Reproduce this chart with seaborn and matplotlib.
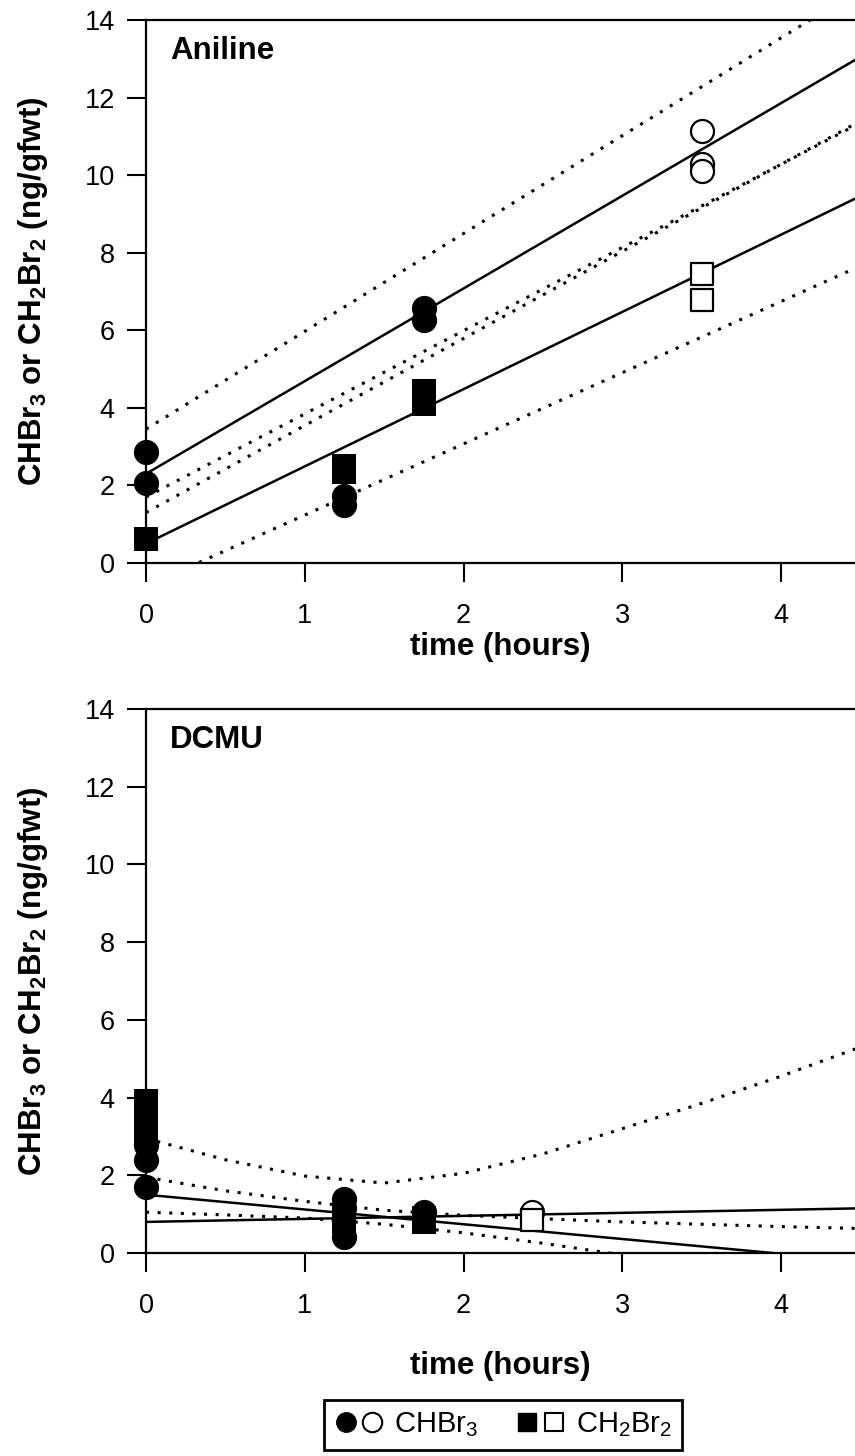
import matplotlib
matplotlib.use("Agg")
import matplotlib.pyplot as plt
import seaborn as sns
from matplotlib.lines import Line2D
from matplotlib.legend_handler import HandlerTuple

# ---------------- data: Aniline panel ----------------
an_chbr3_filled_t = [0, 0, 1.25, 1.25, 1.75, 1.75]
an_chbr3_filled_v = [2.86, 2.06, 1.72, 1.50, 6.58, 6.27]
an_chbr3_open_t = [3.5, 3.5, 3.5]
an_chbr3_open_v = [11.13, 10.30, 10.10]
an_ch2br2_filled_t = [0, 1.25, 1.25, 1.75, 1.75]
an_ch2br2_filled_v = [0.62, 2.50, 2.35, 4.44, 4.10]
an_ch2br2_open_t = [3.5, 3.5]
an_ch2br2_open_v = [7.45, 6.78]

# straight lines: value at t = 0 and t = 4.5
line_t = [0, 4.5]
an_chbr3_fit = [2.30, 13.05]
an_chbr3_upper = [3.45, 14.80]
an_chbr3_lower = [1.30, 11.40]
an_ch2br2_fit = [0.50, 9.46]
an_ch2br2_upper = [1.70, 11.35]
an_ch2br2_lower = [-0.60, 7.66]

# ---------------- data: DCMU panel ----------------
dc_chbr3_filled_t = [0, 0, 0, 1.25, 1.25, 1.25, 1.75]
dc_chbr3_filled_v = [2.78, 2.39, 1.70, 1.38, 1.15, 0.42, 1.05]
dc_chbr3_open_t = [2.43]
dc_chbr3_open_v = [1.05]
dc_ch2br2_filled_t = [0, 0, 0, 0, 1.25, 1.25, 1.75, 1.75]
dc_ch2br2_filled_v = [3.90, 3.60, 3.30, 3.05, 0.95, 0.80, 0.90, 0.81]
dc_ch2br2_open_t = [2.43]
dc_ch2br2_open_v = [0.85]

dc_chbr3_fit = [1.50, -0.21]
dc_ch2br2_fit = [0.80, 1.15]
band_t = [0, 0.5, 1, 1.5, 2, 2.5, 3, 3.5, 4, 4.5]
dc_ch2br2_upper = [2.95, 2.40, 1.98, 1.80, 2.05, 2.55, 3.20, 3.85, 4.55, 5.30]
dc_chbr3_upper = [1.95, 1.60, 1.33, 1.10, 0.97, 0.88, 0.80, 0.74, 0.68, 0.63]
dc_chbr3_lower = [1.05, 0.98, 0.90, 0.74, 0.52, 0.25, -0.05, -0.40, -0.75, -1.05]

x_ticks = [0, 1, 2, 3, 4]
y_ticks = [0, 2, 4, 6, 8, 10, 12, 14]
panel_names = ["Aniline", "DCMU"]
x_label = "time (hours)"
y_label = "CHBr$_3$ or CH$_2$Br$_2$ (ng/gfwt)"
legend_labels = ["CHBr$_3$", "CH$_2$Br$_2$"]

# ---------------- style ----------------
sns.set_theme(style="ticks")
plt.rcParams["font.family"] = ["Liberation Sans", "DejaVu Sans"]
plt.rcParams["mathtext.default"] = "regular"
plt.rcParams["text.color"] = "black"
plt.rcParams["axes.labelcolor"] = "black"
plt.rcParams["xtick.color"] = "black"
plt.rcParams["ytick.color"] = "black"

W, H = 855, 1456
fig = plt.figure(figsize=(W / 100, H / 100), dpi=100)

left_px = 146
px_per_hour = 158.75
ax_w_px = W - left_px
xmax = ax_w_px / px_per_hour

ax1 = fig.add_axes([left_px / W, 1 - 563 / H, ax_w_px / W, 543 / H])
ax2 = fig.add_axes([left_px / W, 1 - 1253 / H, ax_w_px / W, 544 / H])

SOLID_LW = 1.8
DOT = dict(linestyle=(0, (1.0, 2.8)), linewidth=2.2)
FS_TICK = 19.5
FS_BOLD = 22.5
S_FILLED_O = 330
S_FILLED_S = 280
S_OPEN_O = 275
S_OPEN_S = 235


def draw_line(ax, xs, ys, solid=True):
    kw = dict(linewidth=SOLID_LW, linestyle="-") if solid else DOT
    sns.lineplot(x=xs, y=ys, ax=ax, color="black", estimator=None,
                 sort=False, legend=False, zorder=2, **kw)


def draw_pts(ax, t, v, marker, filled, s):
    if filled:
        sns.scatterplot(x=t, y=v, ax=ax, marker=marker, s=s, color="black",
                        edgecolor="black", linewidth=0, clip_on=False,
                        zorder=4, legend=False)
    else:
        sns.scatterplot(x=t, y=v, ax=ax, marker=marker, s=s, color="white",
                        edgecolor="black", linewidth=1.6, clip_on=False,
                        zorder=5, legend=False)


# ---- top panel
for ys in [an_chbr3_fit, an_ch2br2_fit]:
    draw_line(ax1, line_t, ys, True)
for ys in [an_chbr3_upper, an_chbr3_lower, an_ch2br2_upper, an_ch2br2_lower]:
    draw_line(ax1, line_t, ys, False)
draw_pts(ax1, an_chbr3_filled_t, an_chbr3_filled_v, "o", True, S_FILLED_O)
draw_pts(ax1, an_ch2br2_filled_t, an_ch2br2_filled_v, "s", True, S_FILLED_S)
draw_pts(ax1, an_chbr3_open_t, an_chbr3_open_v, "o", False, S_OPEN_O)
draw_pts(ax1, an_ch2br2_open_t, an_ch2br2_open_v, "s", False, S_OPEN_S)

# ---- bottom panel
draw_line(ax2, line_t, dc_chbr3_fit, True)
draw_line(ax2, line_t, dc_ch2br2_fit, True)
for ys in [dc_ch2br2_upper, dc_chbr3_upper, dc_chbr3_lower]:
    draw_line(ax2, band_t, ys, False)
draw_pts(ax2, dc_ch2br2_filled_t, dc_ch2br2_filled_v, "s", True, S_FILLED_S)
draw_pts(ax2, dc_chbr3_filled_t, dc_chbr3_filled_v, "o", True, S_FILLED_O)
draw_pts(ax2, dc_chbr3_open_t, dc_chbr3_open_v, "o", False, S_OPEN_O)
draw_pts(ax2, dc_ch2br2_open_t, dc_ch2br2_open_v, "s", False, S_OPEN_S)

xlabel_y = [-(647 - 563) / 543, -(1366 - 1253) / 544]
for ax, name, xly in zip([ax1, ax2], panel_names, xlabel_y):
    ax.set_xlim(0, xmax)
    ax.set_ylim(0, 14)
    ax.set_xticks(x_ticks)
    ax.set_yticks(y_ticks)
    ax.tick_params(axis="both", direction="out", length=13.5, width=1.5,
                   labelsize=FS_TICK, color="black", labelcolor="black")
    ax.tick_params(axis="x", pad=15)
    ax.tick_params(axis="y", pad=9)
    for side in ["left", "bottom", "top"]:
        ax.spines[side].set_linewidth(1.6)
        ax.spines[side].set_color("black")
    ax.spines["right"].set_visible(False)
    ax.set_xlabel(x_label, fontsize=FS_BOLD, fontweight="bold", color="black")
    ax.set_ylabel(y_label, fontsize=FS_BOLD, fontweight="bold", color="black")
    ax.xaxis.label.set_va("center")
    ax.yaxis.label.set_va("center")
    ax.xaxis.set_label_coords(0.5, xly)
    ax.yaxis.set_label_coords(-(146 - 33) / ax_w_px, 0.5)
    ax.text(0.15, 13.2, name, fontsize=FS_BOLD, fontweight="bold",
            ha="left", va="center", color="black")
    ax.set_facecolor("white")

# ---- legend
h_fo = Line2D([], [], marker="o", linestyle="none", markersize=14,
              markerfacecolor="black", markeredgecolor="black")
h_oo = Line2D([], [], marker="o", linestyle="none", markersize=14,
              markerfacecolor="white", markeredgecolor="black", markeredgewidth=1.5)
h_fs = Line2D([], [], marker="s", linestyle="none", markersize=13,
              markerfacecolor="black", markeredgecolor="black")
h_os = Line2D([], [], marker="s", linestyle="none", markersize=13,
              markerfacecolor="white", markeredgecolor="black", markeredgewidth=1.5)
leg = fig.legend([(h_fo, h_oo), (h_fs, h_os)], legend_labels,
                 handler_map={tuple: HandlerTuple(ndivide=None, pad=0.12)},
                 loc="center", bbox_to_anchor=(503 / W, 1 - 1425 / H),
                 ncol=2, fontsize=21, frameon=True, fancybox=False,
                 edgecolor="black", framealpha=1, handlelength=1.7,
                 handletextpad=0.35, columnspacing=1.3, borderpad=0.35)
leg.get_frame().set_linewidth(2.0)
for txt in leg.get_texts():
    txt.set_color("black")

fig.savefig("out.png", dpi=100, facecolor="white")
